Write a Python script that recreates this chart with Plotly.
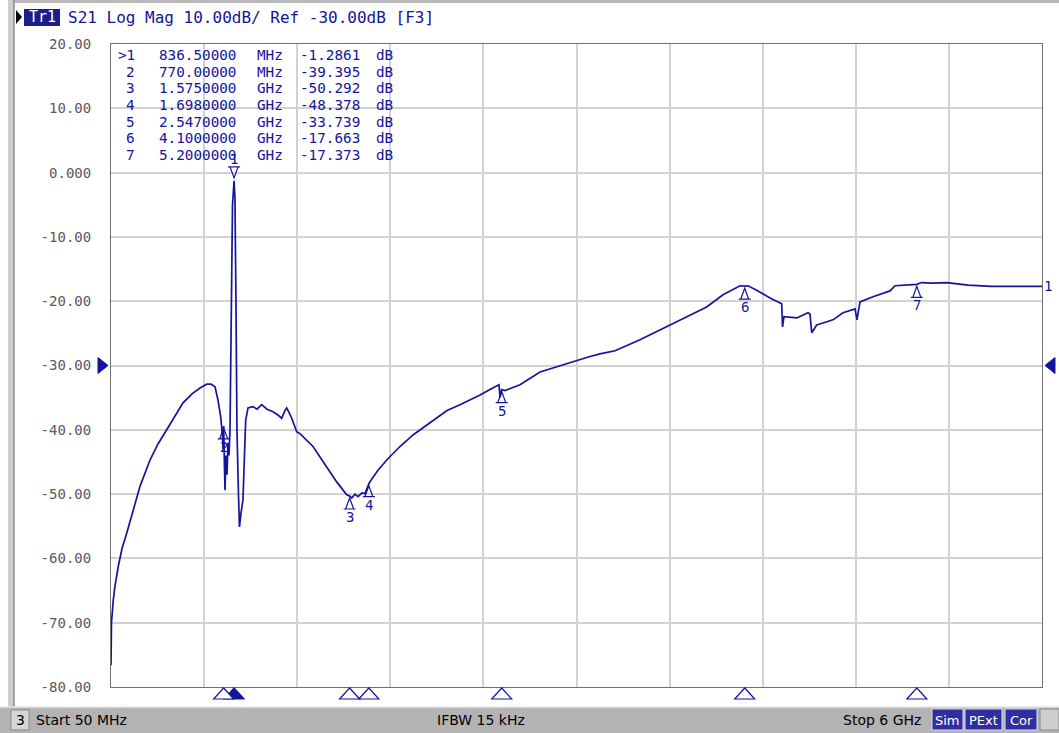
import plotly.graph_objects as go

# ---------------- data ----------------
start_ghz = 0.05
stop_ghz = 6.0

freq_ghz = [
    0.050, 0.053, 0.0645, 0.075, 0.096, 0.120, 0.1503, 0.1906, 0.2353, 0.2992, 0.3504,
    0.4060, 0.4590, 0.5102, 0.5677, 0.6188, 0.6616, 0.6891, 0.7147, 0.7339,
    0.7511, 0.7575, 0.7626, 0.7658, 0.770, 0.7754, 0.7786, 0.7850, 0.7914,
    0.7977, 0.8041, 0.8105, 0.8201, 0.8265, 0.8365, 0.8422, 0.8486, 0.8550,
    0.8646, 0.8710, 0.8806, 0.8934, 0.9030, 0.9109, 0.9256, 0.9575, 0.9831,
    1.0131, 1.0470, 1.0853, 1.1173, 1.1409, 1.1620, 1.1729, 1.1876, 1.2049,
    1.2368, 1.2579, 1.3410, 1.4285, 1.4924, 1.5564, 1.575, 1.5883, 1.6094,
    1.6285, 1.6541, 1.6733, 1.698, 1.7180, 1.7564, 1.8120, 1.8970, 1.9801,
    2.1079, 2.1974, 2.2805, 2.4083, 2.5042, 2.5297, 2.5361, 2.547, 2.5681,
    2.6001, 2.6640, 2.7918, 2.9835, 3.1113, 3.1752, 3.2711, 3.4309, 3.6226,
    3.7504, 3.8571, 3.9613, 4.0700, 4.100, 4.1211, 4.1767, 4.2617, 4.3365,
    4.3416, 4.3512, 4.4323, 4.5046, 4.5173, 4.5282, 4.5601, 4.6004, 4.6643,
    4.7282, 4.8049, 4.8177, 4.8368, 4.9199, 5.0285, 5.0605, 5.1755, 5.200,
    5.2313, 5.2952, 5.3911, 5.5271, 5.6785, 6.000,
]
s21_db = [
    -76.6, -70.0, -66.5, -64.4, -61.3, -58.5, -56.1, -52.5, -48.8, -44.7, -42.2,
    -40.0, -37.8, -35.8, -34.4, -33.5, -32.9, -32.9, -33.3, -35.4,
    -38.0, -39.5, -41.0, -43.0, -39.4, -46.0, -49.4, -44.0, -47.0,
    -42.0, -44.0, -40.0, -20.0, -5.0, -1.29, -4.0, -20.0, -40.0,
    -50.0, -55.1, -53.0, -50.9, -44.0, -38.5, -36.6, -36.4, -36.8,
    -36.1, -36.8, -37.2, -37.7, -38.2, -37.0, -36.6, -37.3, -38.2,
    -40.3, -40.6, -42.6, -45.7, -48.1, -50.1, -50.29, -50.6, -50.0,
    -50.4, -49.8, -49.9, -48.38, -47.6, -46.3, -44.7, -42.6, -40.8,
    -38.5, -37.0, -36.1, -34.6, -33.3, -33.0, -35.0, -33.74, -33.9,
    -33.6, -33.0, -31.0, -29.5, -28.6, -28.2, -27.7, -26.0, -23.7,
    -22.1, -20.9, -19.0, -17.6, -17.66, -17.6, -18.3, -19.5, -20.4,
    -24.0, -22.4, -22.6, -21.8, -22.0, -24.9, -23.7, -23.4, -22.9,
    -21.8, -21.2, -22.9, -20.1, -19.3, -18.4, -17.6, -17.5, -17.37,
    -17.1, -17.2, -17.1, -17.5, -17.7, -17.7,
]

marker_ids = [1, 2, 3, 4, 5, 6, 7]
marker_freq_ghz = [0.8365, 0.770, 1.575, 1.698, 2.547, 4.100, 5.200]
marker_db = [-1.2861, -39.395, -50.292, -48.378, -33.739, -17.663, -17.373]
active_marker = 1

y_ticks = [20, 10, 0, -10, -20, -30, -40, -50, -60, -70, -80]
y_tick_labels = ["20.00", "10.00", "0.000", "-10.00", "-20.00", "-30.00",
                 "-40.00", "-50.00", "-60.00", "-70.00", "-80.00"]
ref_level_db = -30

header_text = "S21 Log Mag 10.00dB/ Ref -30.00dB [F3]"
status_start = "Start 50 MHz"
status_ifbw = "IFBW 15 kHz"
status_stop = "Stop 6 GHz"
status_flags = ["Sim", "PExt", "Cor"]

# ---------------- styling / layout helpers ----------------
W, H = 1059, 733
L, R, T, B = 111, 1042, 44, 687
BLUE = "#14149c"
MONO = "DejaVu Sans Mono"
SANS = "DejaVu Sans"


def px(x):
    return (x - L) / (R - L)


def py(y):
    return (B - y) / (B - T)


def paper_text(x, y, text, size, color, family, xanchor="left"):
    return dict(x=px(x), y=py(y), xref="paper", yref="paper", text=text,
                showarrow=False, xanchor=xanchor, yanchor="middle", borderpad=0,
                font=dict(family=family, size=size, color=color))


fig = go.Figure()
fig.add_trace(go.Scatter(x=freq_ghz, y=s21_db, mode="lines",
                         line=dict(color=BLUE, width=1.7),
                         hoverinfo="skip", showlegend=False))

shapes = []
annotations = []

# on-trace marker glyphs
for mid, f, v in zip(marker_ids, marker_freq_ghz, marker_db):
    if mid == active_marker:
        path = "M0,3 L-4,14 L4,14 Z M-6,14 L6,14"
        label_shift = 22
    else:
        path = "M0,-2 L-4,-13 L4,-13 Z M-6,-13 L6,-13"
        label_shift = -21
    shapes.append(dict(type="path", xref="x", yref="y", xsizemode="pixel",
                       ysizemode="pixel", xanchor=f, yanchor=v, path=path,
                       line=dict(color=BLUE, width=1.2),
                       fillcolor="rgba(255,255,255,0)"))
    annotations.append(dict(x=f, y=v, xref="x", yref="y", text=str(mid),
                            showarrow=False, yshift=label_shift,
                            xanchor="center", yanchor="middle", borderpad=0,
                            font=dict(family=MONO, size=14, color=BLUE)))
    # marker position indicators under the grid
    shapes.append(dict(type="path", xref="x", yref="paper", xsizemode="pixel",
                       ysizemode="pixel", xanchor=f, yanchor=0,
                       path="M0,-1 L-10,-12 L10,-12 Z",
                       line=dict(color=BLUE, width=1.2),
                       fillcolor=BLUE if mid == active_marker else "white"))

# marker table
for i, (mid, f, v) in enumerate(zip(marker_ids, marker_freq_ghz, marker_db)):
    yy = 55 + i * 16.67
    if f < 1:
        ftxt, unit = "%.5f" % (f * 1000), "MHz"
    else:
        ftxt, unit = "%.7f" % f, "GHz"
    vtxt = "%.4f" % v if abs(v) < 10 else "%.3f" % v
    idtxt = (">" if mid == active_marker else "") + str(mid)
    cols = [(idtxt, 136, "right"), (ftxt, 158, "left"), (unit, 256, "left"),
            (vtxt, 299, "left"), ("dB", 375, "left")]
    for txt, xx, anc in cols:
        annotations.append(paper_text(xx, yy, txt, 14.3, BLUE, MONO, anc))

# reference level arrows
shapes.append(dict(type="path", xref="paper", yref="y", xsizemode="pixel",
                   ysizemode="pixel", xanchor=0, yanchor=ref_level_db,
                   path="M-13,8 L-3,0 L-13,-8 Z", line=dict(color=BLUE, width=1),
                   fillcolor=BLUE))
shapes.append(dict(type="path", xref="paper", yref="y", xsizemode="pixel",
                   ysizemode="pixel", xanchor=1, yanchor=ref_level_db,
                   path="M13,8 L3,0 L13,-8 Z", line=dict(color=BLUE, width=1),
                   fillcolor=BLUE))

# trace end label
annotations.append(dict(x=1, y=s21_db[-1], xref="paper", yref="y", text="1",
                        showarrow=False, xanchor="left", yanchor="middle", xshift=1,
                        borderpad=0, font=dict(family=MONO, size=14, color=BLUE)))

# window chrome: top strip, left strip
shapes.append(dict(type="rect", xref="paper", yref="paper", x0=px(12), x1=px(W),
                   y0=py(0), y1=py(3), line=dict(width=0), fillcolor="#b8b8b8"))
shapes.append(dict(type="rect", xref="paper", yref="paper", x0=px(8), x1=px(14),
                   y0=py(0), y1=py(708), line=dict(width=0), fillcolor="#cdcdcd"))
shapes.append(dict(type="line", xref="paper", yref="paper", x0=px(14), x1=px(14),
                   y0=py(0), y1=py(708), line=dict(width=1.5, color="#8a8a8a")))

# header
shapes.append(dict(type="path", xref="paper", yref="paper", xsizemode="pixel",
                   ysizemode="pixel", xanchor=px(16), yanchor=py(17),
                   path="M0,-7 L6,0 L0,7 Z", line=dict(width=0), fillcolor="black"))
shapes.append(dict(type="rect", xref="paper", yref="paper", x0=px(24), x1=px(60),
                   y0=py(26), y1=py(9), line=dict(width=0), fillcolor="#1e1e8a"))
annotations.append(paper_text(42, 17.5, "Tr1", 15, "white", MONO, "center"))
annotations.append(paper_text(67, 17.5, header_text, 16, BLUE, MONO, "left"))

# status bar
shapes.append(dict(type="rect", xref="paper", yref="paper", x0=px(0), x1=px(W),
                   y0=py(733), y1=py(707), line=dict(width=0), fillcolor="#b3b3b3"))
shapes.append(dict(type="line", xref="paper", yref="paper", x0=px(0), x1=px(W),
                   y0=py(707), y1=py(707), line=dict(width=1.5, color="#e6e6e6")))
shapes.append(dict(type="rect", xref="paper", yref="paper", x0=px(11), x1=px(29),
                   y0=py(730), y1=py(710), line=dict(width=1, color="#8a8a8a"),
                   fillcolor="#d6d6d6"))
annotations.append(paper_text(20, 720, "3", 14, "black", SANS, "center"))
for txt, xx in [(status_start, 35), (status_ifbw, 436), (status_stop, 842)]:
    annotations.append(paper_text(xx, 720, txt, 14, "black", SANS, "left"))
flag_boxes = [(932, 963), (965, 1002), (1005, 1037)]
for txt, (x0, x1) in zip(status_flags, flag_boxes):
    shapes.append(dict(type="rect", xref="paper", yref="paper", x0=px(x0), x1=px(x1),
                       y0=py(730), y1=py(709), line=dict(width=1, color="#d8d8ff"),
                       fillcolor="#2f2fa0"))
    annotations.append(paper_text((x0 + x1) / 2, 720, txt, 13, "white", SANS, "center"))
shapes.append(dict(type="rect", xref="paper", yref="paper", x0=px(1040), x1=px(W),
                   y0=py(730), y1=py(709), line=dict(width=1, color="#8a8a8a"),
                   fillcolor="#cfcfcf"))

x_grid = [start_ghz + k * (stop_ghz - start_ghz) / 10 for k in range(11)]

fig.update_layout(
    width=W, height=H, autosize=False,
    margin=dict(l=L, r=W - R, t=T, b=H - B, pad=0),
    plot_bgcolor="white", paper_bgcolor="white",
    showlegend=False,
    xaxis=dict(range=[start_ghz, stop_ghz], tickvals=x_grid, showticklabels=False,
               showgrid=True, gridcolor="#d2d2d2", gridwidth=1.6, zeroline=False,
               showline=True, mirror=True, linecolor="#707070", linewidth=1,
               ticks="", fixedrange=True),
    yaxis=dict(range=[-80, 20], tickvals=y_ticks, ticktext=y_tick_labels,
               showgrid=True, gridcolor="#d2d2d2", gridwidth=1.6, zeroline=False,
               showline=True, mirror=True, linecolor="#707070", linewidth=1,
               ticks="", ticklabelstandoff=16,
               tickfont=dict(family=MONO, size=14, color="#5a5a5a"), fixedrange=True),
    shapes=shapes,
    annotations=annotations,
)

fig.write_html(
    "out.html",
    config={"displayModeBar": False},
    post_script="document.body.style.margin='0';document.body.style.padding='0';",
)
